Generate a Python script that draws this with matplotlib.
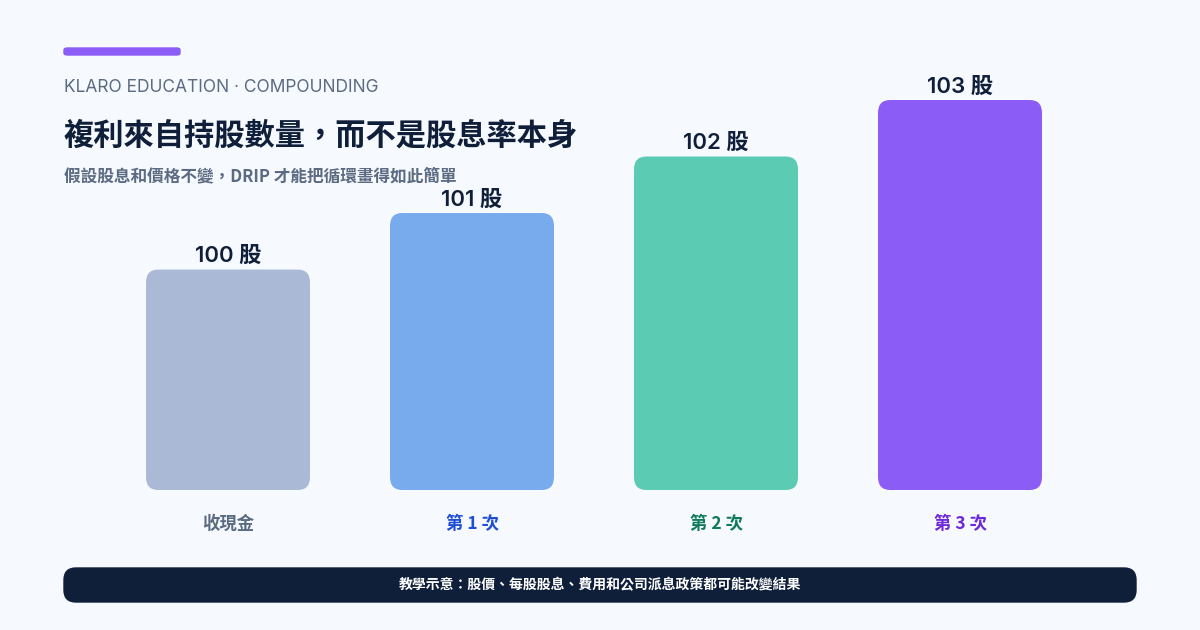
import matplotlib
matplotlib.use('Agg')
import matplotlib.pyplot as plt
from matplotlib.patches import FancyBboxPatch

plt.rcParams['font.family'] = ['Noto Sans CJK TC', 'DejaVu Sans']

categories = ['收現金', '第 1 次', '第 2 次', '第 3 次']
shares = [100, 101, 102, 103]
value_labels = ['100 股', '101 股', '102 股', '103 股']
bar_colors = ['#A9B9D6', '#78AAEE', '#5BCBB3', '#8B5CF6']
tick_colors = ['#5B6B82', '#1D4ED8', '#0F7A5E', '#6D28D9']

W, H = 1200, 630
fig = plt.figure(figsize=(12, 6.3), dpi=100)
fig.patch.set_facecolor('#F6F9FD')

# header
fig.patches.append(FancyBboxPatch((64 / W, 1 - 55 / H), 116 / W, 7 / H,
                                  boxstyle='round,pad=0,rounding_size=0.003',
                                  transform=fig.transFigure, color='#8B5CF6'))
fig.text(64 / W, 1 - 88 / H, 'KLARO EDUCATION · COMPOUNDING', fontsize=12.5,
         color='#5B6B82', va='center', family=['Inter', 'DejaVu Sans'])
fig.text(64 / W, 1 - 135 / H, '複利來自持股數量，而不是股息率本身', fontsize=21.8,
         fontweight='bold', color='#0F1F3A', va='center')
fig.text(64 / W, 1 - 176 / H, '假設股息和價格不變，DRIP 才能把循環畫得如此簡單', fontsize=12,
         fontweight='bold', color='#5B6B82', va='center')

# bars
ax = fig.add_axes([106 / W, 140 / H, 976 / W, 390 / H])
ax.set_facecolor('none')
ymin = 96.1
ax.set_xlim(-0.5, 3.5)
ax.set_ylim(ymin, 103)
bw = 164 / 244
for i, (v, c) in enumerate(zip(shares, bar_colors)):
    ax.add_patch(FancyBboxPatch((i - bw / 2, ymin), bw, v - ymin,
                                boxstyle='round,pad=0,rounding_size=0.05',
                                mutation_aspect=4.6, color=c, lw=0))
    ax.text(i, v + 0.06, value_labels[i], ha='center', va='bottom', fontsize=16,
            fontweight='semibold', color='#0F1F3A', clip_on=False,
            family=['Inter', 'Noto Sans CJK TC'])
ax.set_xticks(range(len(categories)))
ax.set_xticklabels(categories, fontsize=12.5, fontweight='bold')
for t, c in zip(ax.get_xticklabels(), tick_colors):
    t.set_color(c)
ax.tick_params(axis='x', length=0, pad=18)
ax.set_yticks([])
for s in ax.spines.values():
    s.set_visible(False)

# footer
fig.patches.append(FancyBboxPatch((64 / W, 1 - 602 / H), 1072 / W, 34 / H,
                                  boxstyle='round,pad=0,rounding_size=0.01',
                                  mutation_aspect=W / H,
                                  transform=fig.transFigure, color='#0F1F3A'))
fig.text(0.5, 1 - 585 / H, '教學示意：股價、每股股息、費用和公司派息政策都可能改變結果',
         ha='center', va='center', fontsize=10, fontweight='bold', color='white')

fig.savefig('out.png', dpi=100, facecolor=fig.get_facecolor())
